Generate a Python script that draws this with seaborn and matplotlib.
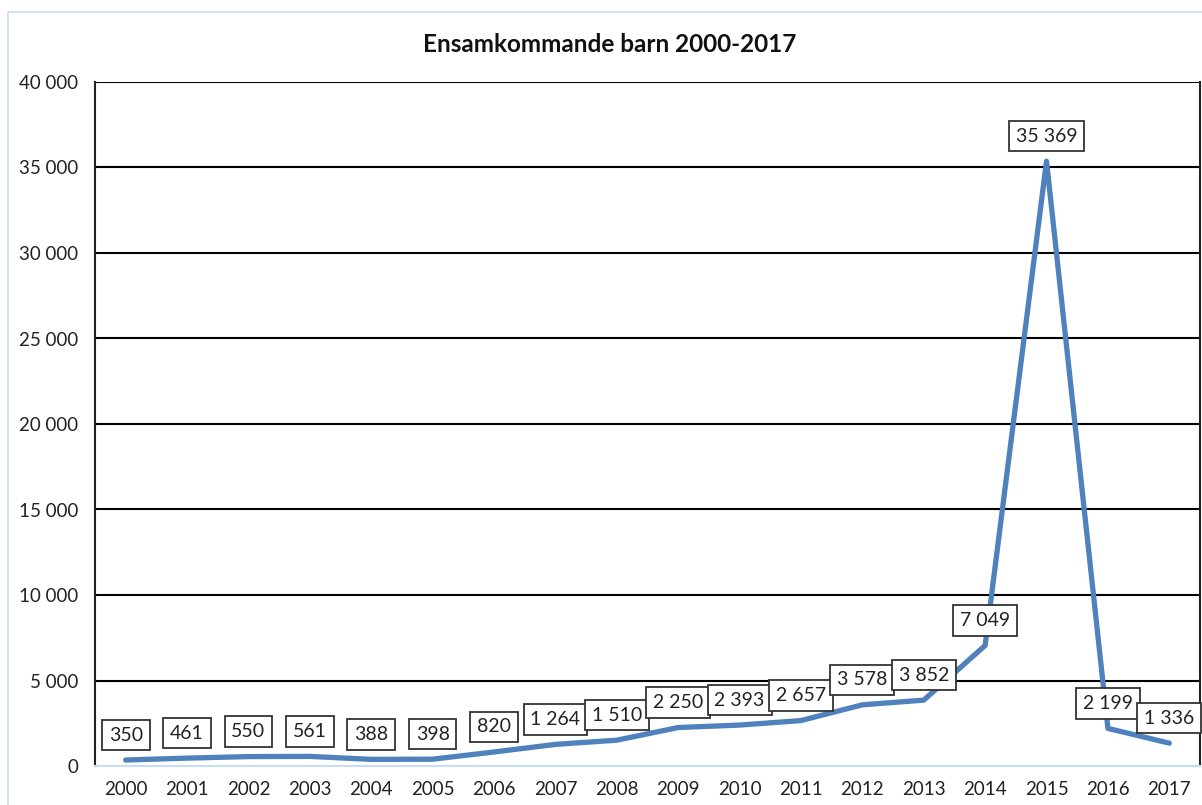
import pandas as pd
import seaborn as sns
import matplotlib.pyplot as plt
from matplotlib.patches import Rectangle

years = ["2000", "2001", "2002", "2003", "2004", "2005", "2006", "2007", "2008",
         "2009", "2010", "2011", "2012", "2013", "2014", "2015", "2016", "2017"]
counts = [350, 461, 550, 561, 388, 398, 820, 1264, 1510,
          2250, 2393, 2657, 3578, 3852, 7049, 35369, 2199, 1336]
y_ticks = [0, 5000, 10000, 15000, 20000, 25000, 30000, 35000, 40000]


def fmt(v):
    """thousands with a space like the swedish excel chart"""
    return f"{v:,}".replace(",", " ")


df = pd.DataFrame({"pos": range(len(years)), "year": years, "count": counts})

sns.set_style("white")
plt.rcParams["font.family"] = ["Lato", "DejaVu Sans"]

fig = plt.figure(figsize=(12.02, 8.05), dpi=100)
# light blue chart border
fig.patches.append(Rectangle((8 / 1202, -0.01), 1.1, 1 - 12 / 805 + 0.01,
                             transform=fig.transFigure, fill=False,
                             edgecolor="#c9ddf0", linewidth=1.2))
ax = fig.add_axes([95 / 1202, 1 - 766 / 805, 1105 / 1202, 684 / 805])

sns.lineplot(data=df, x="pos", y="count", color="#4f81bd", linewidth=3.8, ax=ax)

for i, v in enumerate(counts):
    ax.annotate(fmt(v), (i, v), xytext=(0, 18), textcoords="offset points",
                ha="center", va="center", fontsize=14, color="#222222",
                bbox=dict(boxstyle="square,pad=0.35", facecolor="white",
                          edgecolor="#333333", linewidth=1.3))

ax.set_xlim(-0.5, len(years) - 0.5)
ax.set_ylim(0, 40000)
ax.set_yticks(y_ticks)
ax.set_yticklabels([fmt(t) for t in y_ticks], fontsize=13.5, color="#222222")
ax.set_xticks(range(len(years)))
ax.set_xticklabels(years, fontsize=13.5, color="#222222")
ax.set_xticks([i - 0.5 for i in range(len(years) + 1)], minor=True)
ax.tick_params(axis="x", which="major", length=0, pad=11)
ax.tick_params(axis="x", which="minor", length=7, color="#c9ddf0", width=1.2)
ax.tick_params(axis="y", length=0, pad=12)
ax.set_xlabel("")
ax.set_ylabel("")

for t in y_ticks[1:]:
    ax.axhline(t, color="black", linewidth=1.5, zorder=0)

ax.spines["left"].set_color("#222222")
ax.spines["left"].set_linewidth(1.5)
ax.spines["right"].set_color("#222222")
ax.spines["right"].set_linewidth(1.5)
ax.spines["top"].set_visible(False)
ax.spines["bottom"].set_color("#c9ddf0")
ax.spines["bottom"].set_linewidth(1.5)

fig.text(610 / 1202, 1 - 44 / 805, "Ensamkommande barn 2000-2017",
         ha="center", va="center", fontsize=17.5, fontweight="bold",
         color="#111111")

fig.savefig("out.png", dpi=100)
